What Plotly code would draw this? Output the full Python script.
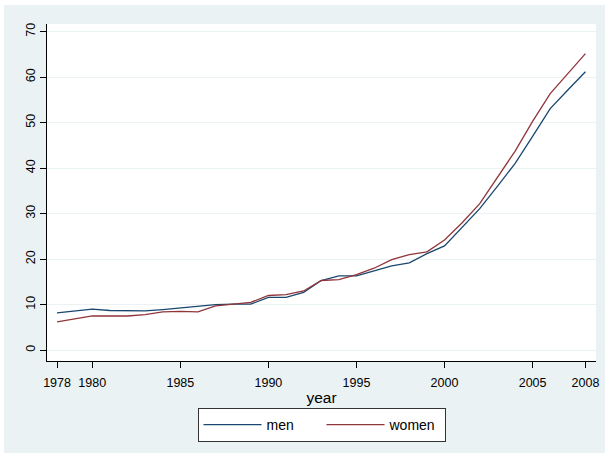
import plotly.graph_objects as go

years = list(range(1978, 2009))
men = [8.2, 8.6, 9.0, 8.7, 8.6, 8.6, 8.9, 9.3, 9.6, 10.0, 10.1, 10.1, 11.6, 11.6, 12.7,
       15.3, 16.3, 16.3, 17.4, 18.5, 19.2, 21.2, 22.9, 27.0, 31.1, 36.0, 41.0, 47.0,
       53.1, 57.2, 61.2]
women = [6.2, 6.8, 7.5, 7.5, 7.5, 7.8, 8.4, 8.5, 8.4, 9.7, 10.1, 10.5, 12.0, 12.2, 13.0,
         15.3, 15.5, 16.6, 18.0, 19.9, 21.0, 21.6, 24.2, 28.0, 32.2, 37.9, 43.7, 50.3,
         56.4, 60.8, 65.2]
x_ticks = [1978, 1980, 1985, 1990, 1995, 2000, 2005, 2008]
y_ticks = [0, 10, 20, 30, 40, 50, 60, 70]

FONT = "Liberation Sans, Arial, sans-serif"
W, H = 610, 458
L, R, T, B = 47, 14, 24, 97
pw, ph = W - L - R, H - T - B

def px_x(p):
    return (p - L) / pw

def px_y(p):
    return (H - B - p) / ph

fig = go.Figure()
fig.add_trace(go.Scatter(x=years, y=men, mode="lines", name="men",
                         line=dict(color="#1a476f", width=1.3)))
fig.add_trace(go.Scatter(x=years, y=women, mode="lines", name="women",
                         line=dict(color="#90353b", width=1.3)))

fig.update_layout(
    width=W, height=H,
    margin=dict(l=L, r=R, t=T, b=B, autoexpand=False),
    paper_bgcolor="white",
    plot_bgcolor="white",
    font=dict(family=FONT, color="black", size=12.5),
    shapes=[
        dict(type="rect", xref="paper", yref="paper", layer="below",
             x0=px_x(4), x1=px_x(605), y0=px_y(453), y1=px_y(5),
             fillcolor="#eaf2f3", line=dict(width=0)),
        dict(type="rect", xref="paper", yref="paper", layer="below",
             x0=0, x1=1, y0=0, y1=1, fillcolor="white", line=dict(width=0)),
    ],
    xaxis=dict(
        range=[1977.43, 2008.6], tickmode="array", tickvals=x_ticks,
        ticktext=[str(v) for v in x_ticks],
        showline=True, linecolor="black", linewidth=1.3, mirror=False,
        ticks="outside", ticklen=6, tickcolor="black", tickwidth=1.3,
        showgrid=False, zeroline=False, automargin=False,
        tickfont=dict(size=12.5), ticklabelstandoff=4,
        title=dict(text="year", font=dict(size=15.5), standoff=2),
    ),
    yaxis=dict(
        range=[-2.4, 71.7], tickmode="array", tickvals=y_ticks,
        showline=True, linecolor="black", linewidth=1.3, mirror=False,
        ticks="outside", ticklen=6, tickcolor="black", tickwidth=1.3,
        showgrid=True, gridcolor="#eaf2f3", gridwidth=1,
        zeroline=False, automargin=False,
        tickangle=-90, tickfont=dict(size=12.5), ticklabelstandoff=0,
    ),
    legend=dict(
        orientation="h", x=0.5, xanchor="center", y=px_y(408), yanchor="top",
        bgcolor="white", bordercolor="#333333", borderwidth=1,
        font=dict(size=14), itemwidth=58, entrywidth=50,
        tracegroupgap=0,
    ),
)

fig.write_html("out.html", config={"displayModeBar": False},
               post_script="document.body.style.margin='0px';document.body.style.padding='0px';")
